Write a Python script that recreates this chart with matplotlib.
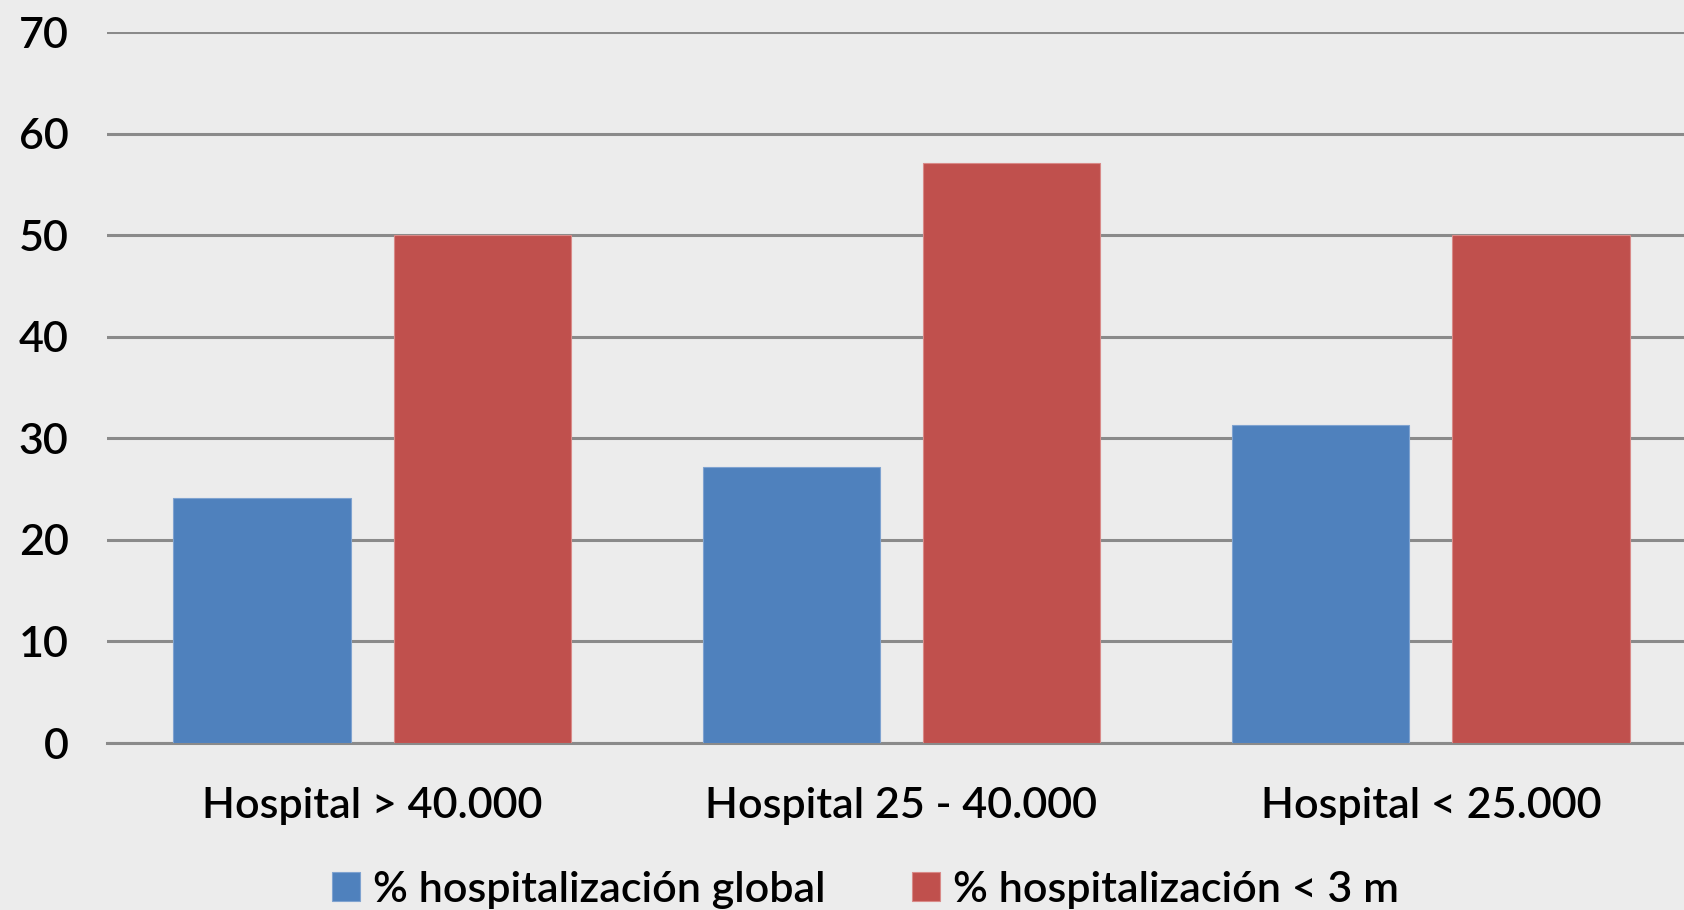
import numpy as np
import matplotlib
matplotlib.use('Agg')
import matplotlib.pyplot as plt

# Datos
categorias = ['Hospital > 40.000', 'Hospital 25 - 40.000', 'Hospital < 25.000']
hosp_global = [24.1, 27.2, 31.3]
hosp_3m = [50.0, 57.1, 50.0]
series = ['% hospitalización global', '% hospitalización < 3 m']
y_ticks = [0, 10, 20, 30, 40, 50, 60, 70]

plt.rcParams['font.family'] = ['Lato', 'DejaVu Sans']
plt.rcParams['font.weight'] = 'semibold'

fig = plt.figure(figsize=(16.84, 9.10), dpi=100)
fig.patch.set_facecolor('#ececec')
ax = fig.add_axes([0.0638, 0.1835, 0.943, 0.781])
ax.set_facecolor('none')

x = np.arange(len(categorias))
ancho = 0.335
desp = 0.208

ax.bar(x - desp, hosp_global, ancho, color='#4F81BD', edgecolor='#7fa3d0',
       linewidth=0.8, label=series[0], zorder=3)
ax.bar(x + desp, hosp_3m, ancho, color='#C0504D', edgecolor='#d98a88',
       linewidth=0.8, label=series[1], zorder=3)

ax.set_xlim(-0.5, 2.5)
ax.set_ylim(0, 70)
ax.set_yticks(y_ticks)
ax.set_xticks(x)
ax.set_xticklabels(categorias)

ax.yaxis.grid(True, color='#8a8a8a', linewidth=2.2, zorder=1)
ax.set_axisbelow(True)
for s in ['top', 'right', 'left']:
    ax.spines[s].set_visible(False)
ax.spines['bottom'].set_color('#8a8a8a')
ax.spines['bottom'].set_linewidth(2.2)
ax.spines['bottom'].set_zorder(2)

ax.tick_params(axis='both', length=0, labelsize=31, colors='black')
ax.tick_params(axis='y', pad=28)
ax.tick_params(axis='x', pad=32)

fig.legend(loc='center', bbox_to_anchor=(0.514, 0.022), ncol=2, frameon=False,
           fontsize=31, handlelength=0.65, handleheight=0.65, handletextpad=0.3,
           columnspacing=2.0)

fig.savefig('out.png', dpi=100, facecolor=fig.get_facecolor())
